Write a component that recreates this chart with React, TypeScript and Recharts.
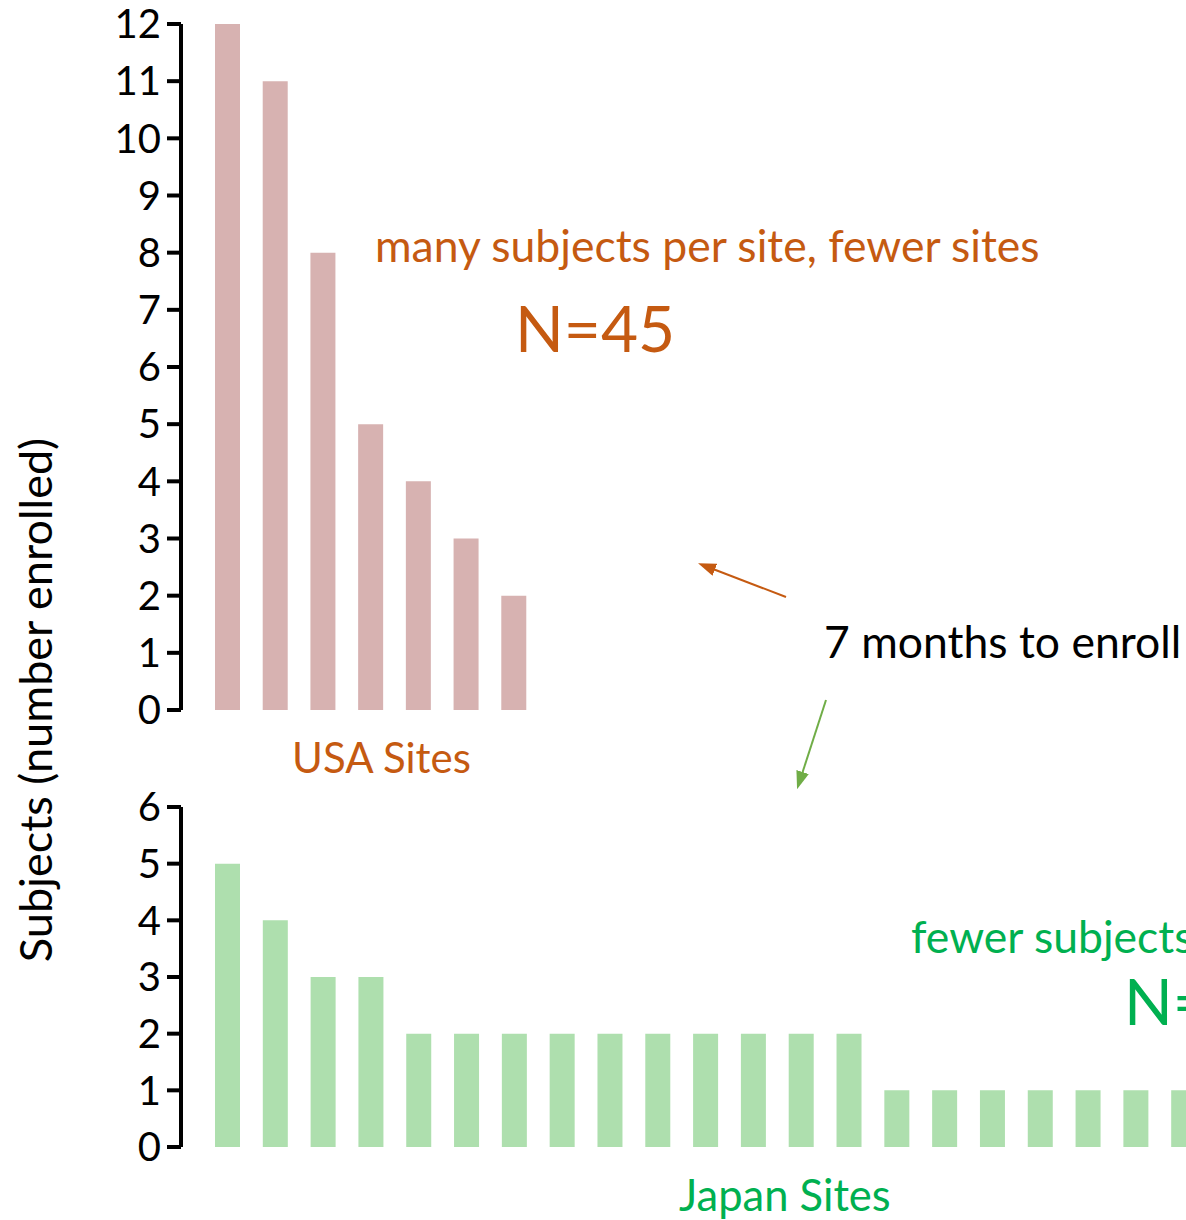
import { BarChart, Bar, XAxis, YAxis } from "recharts";

const usaSites = ["U1", "U2", "U3", "U4", "U5", "U6", "U7"];
const usaEnrolled = [12, 11, 8, 5, 4, 3, 2];
const usaTicks = [0, 1, 2, 3, 4, 5, 6, 7, 8, 9, 10, 11, 12];

const japanSites = [
  "J1", "J2", "J3", "J4", "J5", "J6", "J7", "J8", "J9", "J10", "J11",
  "J12", "J13", "J14", "J15", "J16", "J17", "J18", "J19", "J20", "J21",
];
const japanEnrolled = [5, 4, 3, 3, 2, 2, 2, 2, 2, 2, 2, 2, 2, 2, 1, 1, 1, 1, 1, 1, 1];
const japanTicks = [0, 1, 2, 3, 4, 5, 6];

const usaData = usaSites.map((site, i) => ({ site, n: usaEnrolled[i] }));
const japanData = japanSites.map((site, i) => ({ site, n: japanEnrolled[i] }));

const FONT = "Lato, 'Open Sans', sans-serif";
const ORANGE = "#C55A11";
const GREEN = "#00B050";

const tickStyle = { fontSize: 40, fill: "#000", fontFamily: FONT };
const axisStroke = { stroke: "#000", strokeWidth: 4 };

export default function App() {
  return (
    <div style={{ position: "fixed", left: 0, top: 0, width: 1186, height: 1220, overflow: "hidden", background: "#fff", fontFamily: FONT }}>
      <div style={{ position: "absolute", left: 0, top: 0 }}>
        <BarChart width={558} height={760} data={usaData} margin={{ top: 24, right: 20, bottom: 50, left: 0 }}>
          <XAxis dataKey="site" hide padding={{ left: 23, right: 0 }} />
          <YAxis
            width={181} domain={[0, 12]} ticks={usaTicks} interval={0}
            tick={tickStyle} axisLine={axisStroke} tickLine={axisStroke}
            tickSize={14} tickMargin={6}
          />
          <Bar dataKey="n" fill="#D7B2B1" barSize={25} isAnimationActive={false} />
        </BarChart>
      </div>

      <div style={{ position: "absolute", left: 0, top: 780 }}>
        <BarChart width={1208} height={417} data={japanData} margin={{ top: 27, right: 0, bottom: 50, left: 0 }}>
          <XAxis dataKey="site" hide padding={{ left: 23, right: 0 }} />
          <YAxis
            width={181} domain={[0, 6]} ticks={japanTicks} interval={0}
            tick={tickStyle} axisLine={axisStroke} tickLine={axisStroke}
            tickSize={14} tickMargin={6}
          />
          <Bar dataKey="n" fill="#AEDFAE" barSize={25} isAnimationActive={false} />
        </BarChart>
      </div>

      {/* annotations */}
      <svg width={1186} height={1220} style={{ position: "absolute", left: 0, top: 0, pointerEvents: "none" }}>
        <defs>
          <marker id="headOrange" markerWidth="18" markerHeight="13" refX="2" refY="6.5" orient="auto" markerUnits="userSpaceOnUse">
            <path d="M0,0 L18,6.5 L0,13 z" fill={ORANGE} />
          </marker>
          <marker id="headGreen" markerWidth="18" markerHeight="13" refX="2" refY="6.5" orient="auto" markerUnits="userSpaceOnUse">
            <path d="M0,0 L18,6.5 L0,13 z" fill="#70AD47" />
          </marker>
        </defs>
        <text x={52} y={700} transform="rotate(-90 52 700)" textAnchor="middle" fontSize={45} fontFamily={FONT} fill="#000">
          Subjects (number enrolled)
        </text>
        <text x={375} y={262} fontSize={44.5} fontFamily={FONT} fill={ORANGE}>many subjects per site, fewer sites</text>
        <text x={515} y={352} fontSize={64} fontFamily={FONT} fill={ORANGE}>N=45</text>
        <text x={292} y={773} fontSize={42} fontFamily={FONT} fill={ORANGE}>USA Sites</text>
        <text x={824} y={658} fontSize={44.5} fontFamily={FONT} fill="#000">7 months to enroll</text>
        <text x={911} y={953} fontSize={44.5} fontFamily={FONT} fill={GREEN}>fewer subjects per site, more sites</text>
        <text x={1124} y={1025} fontSize={64} fontFamily={FONT} fill={GREEN}>N=</text>
        <text x={679} y={1211} fontSize={43.5} fontFamily={FONT} fill={GREEN}>Japan Sites</text>
        <line x1={786} y1={597} x2={713} y2={569} stroke={ORANGE} strokeWidth={2} markerEnd="url(#headOrange)" />
        <line x1={826} y1={700} x2={802} y2={774} stroke="#70AD47" strokeWidth={2} markerEnd="url(#headGreen)" />
      </svg>
    </div>
  );
}
